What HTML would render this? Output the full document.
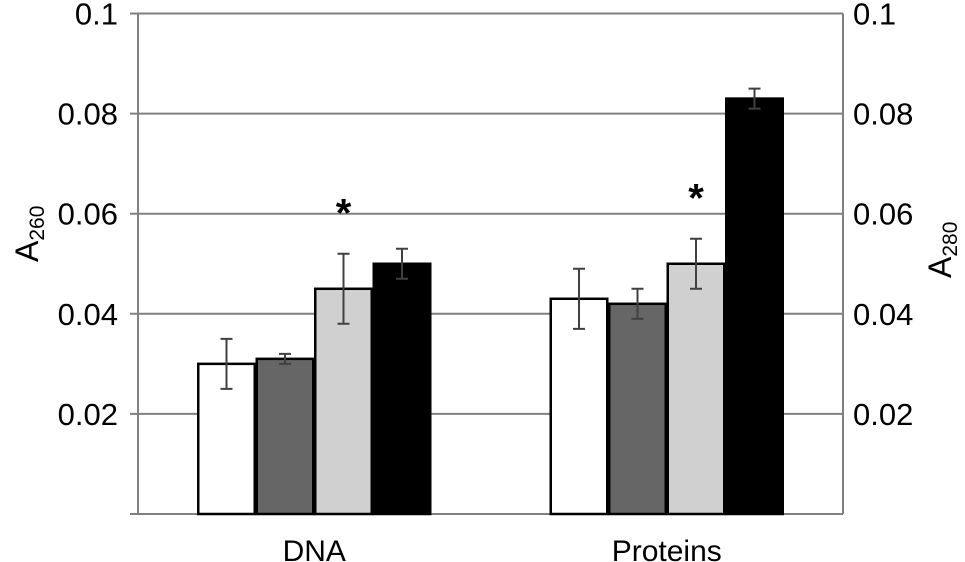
<!DOCTYPE html>
<html><head><meta charset="utf-8"><style>
body{margin:0;background:#fff}
text{font-family:"Liberation Sans",Arial,sans-serif;fill:#000}
</style></head><body>
<svg width="965" height="562" viewBox="0 0 965 562" style="position:absolute;left:0;top:0">
<g id="grid"></g><g id="bars"></g><g id="labels"></g>
<text transform="translate(38,262) rotate(-90)" font-size="32">A<tspan font-size="21" dy="6">260</tspan></text>
<text transform="translate(951,278) rotate(-90)" font-size="32">A<tspan font-size="21" dy="6">280</tspan></text>
</svg>
<script>
const categories=["DNA","Proteins"];
const seriesWhite=[0.030,0.043];
const seriesDark=[0.031,0.042];
const seriesLight=[0.045,0.050];
const seriesBlack=[0.050,0.083];
const errWhite=[0.005,0.006];
const errDark=[0.001,0.003];
const errLight=[0.007,0.005];
const errBlack=[0.003,0.002];
const significant=[false,false,true,false];
const leftTicks=[0.02,0.04,0.06,0.08,0.1];
const leftTickLabels=["0.02","0.04","0.06","0.08","0.1"];
const NS="http://www.w3.org/2000/svg";
const X0=138,X1=843,Y0=514,Y1=13.5,VMAX=0.1;
const y=v=>Y0-(v/VMAX)*(Y0-Y1);
const catW=(X1-X0)/categories.length;
const xc=i=>X0+catW*(i+0.5);
function mk(tag,at,parent){const e=document.createElementNS(NS,tag);for(const k in at)e.setAttribute(k,at[k]);document.getElementById(parent).appendChild(e);return e;}
leftTicks.forEach((t,i)=>{
 const g=mk('line',{x1:130,x2:X1,y1:y(t),y2:y(t),stroke:'#808080','stroke-width':2},'grid');
 
 
 const l=mk('text',{x:118,y:y(t)+11,'font-size':31,'text-anchor':'end'},'labels');l.textContent=leftTickLabels[i];
 
 
 const r=mk('text',{x:853,y:y(t)+11,'font-size':31},'labels');r.textContent=leftTickLabels[i];
 
 
});
let a=mk('line',{x1:X0,x2:X0,y1:Y1,y2:Y0,stroke:'#808080','stroke-width':2},'grid');


a=mk('line',{x1:X1,x2:X1,y1:Y1,y2:Y0,stroke:'#808080','stroke-width':2},'grid');


a=mk('line',{x1:130,x2:X1,y1:Y0,y2:Y0,stroke:'#808080','stroke-width':2},'grid');


const series=[seriesWhite,seriesDark,seriesLight,seriesBlack];
const errs=[errWhite,errDark,errLight,errBlack];
const fills=['#ffffff','#666666','#d0d0d0','#000000'];
const bw=58.5;
categories.forEach((c,i)=>{
 const start=xc(i)-bw*2;
 series.forEach((s,j)=>{
  const bx=start+j*bw;
  const r=mk('rect',{x:bx+1,y:y(s[i]),width:bw-2,height:Y0-y(s[i]),fill:fills[j],stroke:'#000','stroke-width':2.5},'bars');
  
  
  const cx=bx+bw/2,hi=y(s[i]+errs[j][i]),lo=y(s[i]-errs[j][i]);
  const e=mk('path',{d:`M${cx},${hi}V${lo}M${cx-6},${hi}H${cx+6}M${cx-6},${lo}H${cx+6}`,stroke:'#404040','stroke-width':2,fill:'none'},'bars');
  
  
  if(significant[j]){
   const t=mk('text',{x:cx,y:hi-27,'font-size':40,'font-weight':'bold','text-anchor':'middle'},'labels');t.textContent='*';
   
   
  }
 });
 const t=mk('text',{x:xc(i),y:561,'font-size':30,'text-anchor':'middle'},'labels');t.textContent=c;
 
 
});
</script>
</body></html>
